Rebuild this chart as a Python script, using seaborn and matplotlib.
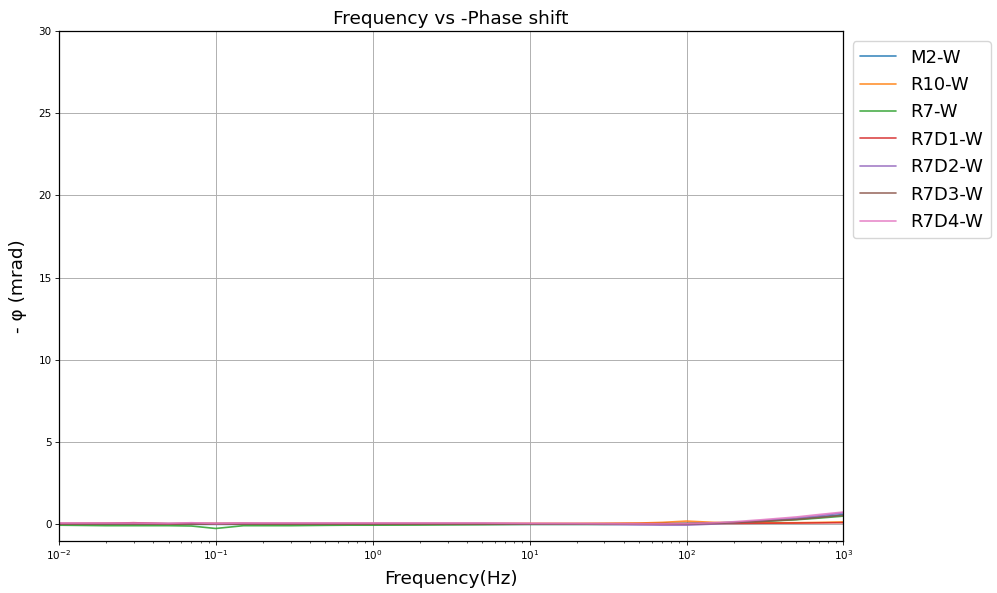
import numpy as np
import pandas as pd
import matplotlib
matplotlib.use("Agg")
import matplotlib.pyplot as plt
import seaborn as sns

freq = [0.01, 0.02, 0.03, 0.05, 0.07, 0.1, 0.15, 0.2, 0.3, 0.5, 0.7, 1, 2, 3, 5, 7,
        10, 20, 30, 50, 70, 100, 150, 200, 300, 500, 700, 1000]

m2_w   = [0.00, 0.00, 0.00, 0.00, 0.00, 0.00, 0.00, 0.00, 0.00, 0.00, 0.00, 0.00, 0.00, 0.00, 0.00, 0.00,
          0.00, 0.00, 0.00, 0.00, 0.02, 0.05, 0.08, 0.12, 0.20, 0.32, 0.45, 0.60]
r10_w  = [0.05, 0.06, 0.05, 0.04, 0.06, 0.05, 0.05, 0.05, 0.05, 0.05, 0.05, 0.05, 0.05, 0.05, 0.05, 0.05,
          0.05, 0.05, 0.06, 0.08, 0.12, 0.20, 0.12, 0.10, 0.10, 0.10, 0.12, 0.15]
r7_w   = [-0.05, -0.08, -0.08, -0.08, -0.10, -0.25, -0.08, -0.08, -0.08, -0.06, -0.05, -0.05, -0.04, -0.03, -0.02, -0.01,
          0.00, 0.00, 0.00, 0.02, 0.04, 0.06, 0.08, 0.12, 0.18, 0.28, 0.38, 0.50]
r7d1_w = [0.05, 0.06, 0.10, 0.04, 0.05, 0.05, 0.06, 0.05, 0.05, 0.05, 0.05, 0.05, 0.05, 0.05, 0.05, 0.05,
          0.05, 0.05, 0.05, 0.05, 0.05, 0.05, 0.06, 0.06, 0.07, 0.08, 0.09, 0.10]
r7d2_w = [0.05, 0.05, 0.05, 0.05, 0.05, 0.05, 0.05, 0.05, 0.05, 0.05, 0.05, 0.05, 0.05, 0.05, 0.05, 0.04,
          0.03, 0.02, 0.00, -0.03, -0.05, -0.05, 0.02, 0.10, 0.22, 0.38, 0.52, 0.70]
r7d3_w = [0.02, 0.02, 0.02, 0.02, 0.02, 0.02, 0.02, 0.02, 0.02, 0.02, 0.02, 0.02, 0.02, 0.02, 0.02, 0.02,
          0.02, 0.02, 0.02, 0.02, 0.02, 0.03, 0.06, 0.10, 0.18, 0.30, 0.42, 0.55]
r7d4_w = [0.08, 0.08, 0.08, 0.06, 0.10, 0.05, 0.08, 0.08, 0.08, 0.08, 0.08, 0.08, 0.08, 0.08, 0.08, 0.07,
          0.06, 0.05, 0.04, 0.03, 0.03, 0.05, 0.10, 0.16, 0.28, 0.45, 0.60, 0.75]

names = ["M2-W", "R10-W", "R7-W", "R7D1-W", "R7D2-W", "R7D3-W", "R7D4-W"]
series = [m2_w, r10_w, r7_w, r7d1_w, r7d2_w, r7d3_w, r7d4_w]

rows = []
for n, s in zip(names, series):
    for f, v in zip(freq, s):
        rows.append({"Frequency": f, "phase": v, "sample": n})
df = pd.DataFrame(rows)

sns.set_style("white")
plt.rcParams['font.family'] = ['DejaVu Sans']
plt.rcParams['text.color'] = 'black'
plt.rcParams['axes.labelcolor'] = 'black'
plt.rcParams['xtick.color'] = 'black'
plt.rcParams['ytick.color'] = 'black'

fig = plt.figure(figsize=(9.97, 5.93), dpi=100)
ax = fig.add_axes([0.059, 0.088, 0.787, 0.860])

sns.lineplot(data=df, x="Frequency", y="phase", hue="sample", hue_order=names,
             palette=sns.color_palette("tab10", 7), ax=ax, linewidth=1.2, alpha=0.85,
             legend=True)

ax.set_xscale("log")
ax.set_xlim(0.01, 1000)
ax.set_ylim(-1, 30)
ax.set_yticks([0, 5, 10, 15, 20, 25, 30])
ax.grid(True, which="major", color="#b0b0b0", linewidth=0.7)
for sp in ax.spines.values():
    sp.set_color("black")
    sp.set_linewidth(0.9)
ax.tick_params(axis="both", which="major", direction="out", length=2.6, width=0.6,
               labelsize=7.5, pad=2.5, bottom=True, left=True, color="black")
ax.tick_params(axis="x", which="minor", direction="out", length=1.5, width=0.45,
               bottom=True, color="black")
ax.set_title("Frequency vs -Phase shift", fontsize=13.3, pad=5, color="black")
ax.set_xlabel("Frequency(Hz)", fontsize=13.3, labelpad=6)
ax.set_ylabel("- φ (mrad)", fontsize=13.3, labelpad=8)

leg = ax.legend(loc="upper left", bbox_to_anchor=(1.005, 0.99), fontsize=13,
                frameon=True, title=None, borderaxespad=0.3, labelspacing=0.52,
                handlelength=2.0)
leg.get_frame().set_edgecolor("#cccccc")

fig.savefig("out.png", dpi=100)
